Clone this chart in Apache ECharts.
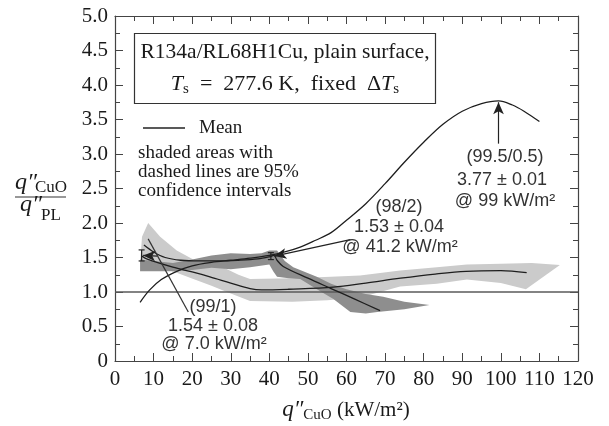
<!DOCTYPE html>
<html>
<head>
<meta charset="utf-8">
<script src="https://cdn.jsdelivr.net/npm/echarts@6/dist/echarts.min.js"></script>
<style>
  html, body { margin: 0; padding: 0; background: #fff; }
  #main { width: 609px; height: 426px; }
</style>
</head>
<body>
<div id="main"></div>
<script>
// mean curves [q'' CuO (kW/m2), ratio]
var mean995 = [[6.5,0.85],[9,1.03],[12,1.18],[16,1.3],[20,1.38],[25,1.43],[30,1.46],[35,1.49],[40,1.53],[44,1.58],[48,1.65],[52,1.75],[56,1.86],[60,2.04],[65,2.28],[70,2.57],[75,2.88],[80,3.17],[85,3.43],[90,3.62],[95,3.73],[99.4,3.77],[103,3.71],[106,3.62],[110,3.47]];
var mean99 = [[7,1.52],[8.2,1.48],[15,1.36],[20,1.29],[24.6,1.22],[30,1.13],[35,1.05],[38,1.03],[45,1.04],[56.6,1.07],[65,1.13],[74,1.2],[83,1.26],[91,1.3],[100,1.31],[106.7,1.28]];
var mean98 = [[7.5,1.68],[10,1.58],[13,1.5],[17,1.46],[22,1.45],[27,1.45],[32,1.46],[37,1.48],[40,1.51],[41.2,1.53],[42,1.46],[43.6,1.37],[50,1.2],[56,1.05],[62,0.9],[68.7,0.73]];

// 95% confidence bands
var band99Upper = [[6.5,1.41],[7,1.8],[8.6,2.0],[11.7,1.8],[16,1.6],[20.3,1.47],[24.6,1.41],[28,1.36],[32,1.25],[35,1.19],[46,1.2],[56,1.22],[63.5,1.24],[73.9,1.31],[83.4,1.36],[91.2,1.4],[100,1.41],[108,1.42],[115.3,1.39]];
var band99Lower = [[6.5,1.41],[11.7,1.36],[16,1.28],[20.3,1.19],[25,1.09],[29,1.0],[35,0.87],[46,0.86],[55,0.88],[63.5,0.92],[73.9,1.08],[83.4,1.12],[91.2,1.18],[100,1.13],[106.5,1.04],[115.3,1.39]];
var band98Upper = [[6.5,1.3],[6.5,1.47],[10,1.45],[15,1.42],[20,1.47],[25,1.53],[30,1.56],[35,1.55],[38,1.56],[40,1.6],[42,1.6],[44,1.45],[46.2,1.36],[52.3,1.22],[56,1.12],[60,1.04],[65,0.97],[69.5,0.93],[75,0.86],[81.5,0.81]];
var band98Lower = [[6.5,1.3],[10,1.3],[15,1.3],[20,1.32],[25,1.35],[30,1.33],[35,1.36],[40,1.4],[41,1.3],[42,1.22],[45,1.2],[48,1.19],[52,1.05],[56.6,0.9],[61,0.71],[65,0.69],[68,0.71],[75,0.75],[81.5,0.81]];

// error bars [q, low, high] and annotation arrows [from, to]
var errBars = [[6.9,1.45,1.61],[40.4,1.47,1.57]];
var arrows = [[[99.4,3.15],[99.4,3.75]],[[61,1.76],[41.3,1.52]],[[11,1.52],[7.3,1.53]]];
var leader99 = [[19,0.71],[8.6,1.77]];
var refLine = [[0,1],[120,1]];

var xTicks = ['0','10','20','30','40','50','60','70','80','90','100','110','120'];
var yTicks = ['0','0.5','1.0','1.5','2.0','2.5','3.0','3.5','4.0','4.5','5.0'];

var myChart = echarts.init(document.getElementById('main'));
var serif = 'Liberation Serif';
var ink = '#1a1a1a';

function bandSeries(upper, lower, color) {
  return {
    type: 'custom',
    silent: true,
    data: [[0, 0]],
    z: 1,
    renderItem: function (params, api) {
      var pts = upper.concat(lower.slice().reverse()).map(function (p) { return api.coord(p); });
      return { type: 'polygon', shape: { points: pts }, style: { fill: color } };
    }
  };
}

function axisX(pos, labels) {
  return {
    type: 'value', min: 0, max: 120, interval: 10, position: pos,
    axisLine: { show: true, onZero: false, lineStyle: { color: '#444', width: 1.2 } },
    axisTick: { show: true, inside: true, length: 8, lineStyle: { color: '#444' } },
    minorTick: { show: true, splitNumber: 2, length: 5, lineStyle: { color: '#444' } },
    splitLine: { show: false },
    axisLabel: labels ? {
      show: true, margin: 8, color: ink, fontFamily: serif, fontSize: 21,
      formatter: function (v) { return xTicks[Math.round(v / 10)]; }
    } : { show: false }
  };
}
function axisY(pos, labels) {
  return {
    type: 'value', min: 0, max: 5, interval: 0.5, position: pos,
    axisLine: { show: true, onZero: false, lineStyle: { color: '#444', width: 1.2 } },
    axisTick: { show: true, inside: true, length: 8, lineStyle: { color: '#444' } },
    minorTick: { show: true, splitNumber: 2, length: 5, lineStyle: { color: '#444' } },
    splitLine: { show: false },
    axisLabel: labels ? {
      show: true, margin: 7, color: ink, fontFamily: serif, fontSize: 21,
      formatter: function (v) { return yTicks[Math.round(v * 2)]; }
    } : { show: false }
  };
}

function meanLine(data) {
  return {
    type: 'line', data: data, smooth: 0.35, showSymbol: false, silent: true, z: 5,
    lineStyle: { color: '#1e1e1e', width: 1.3 }
  };
}

var option = {
  animation: false,
  backgroundColor: '#fff',
  grid: { left: 115, right: 31, top: 16, bottom: 65 },
  xAxis: [axisX('bottom', true), axisX('top', false)],
  yAxis: [axisY('left', true), axisY('right', false)],
  series: [
    bandSeries(band99Upper, band99Lower, '#cbcbcb'),
    bandSeries(band98Upper, band98Lower, '#8e8e8e'),
    {
      type: 'line', data: refLine, showSymbol: false, silent: true, z: 3,
      lineStyle: { color: '#5a5a5a', width: 1.6 }
    },
    meanLine(mean99),
    meanLine(mean98),
    meanLine(mean995),
    {
      type: 'line', data: leader99, showSymbol: false, silent: true, z: 6,
      lineStyle: { color: '#333', width: 1.2 }
    },
    {
      type: 'line', data: [], silent: true, z: 6,
      markLine: {
        silent: true, symbol: ['none', 'arrow'], symbolSize: [8, 12],
        label: { show: false },
        lineStyle: { color: '#222', width: 1.2, type: 'solid' },
        data: arrows.map(function (a) { return [{ coord: a[0] }, { coord: a[1] }]; })
      }
    },
    {
      type: 'custom', silent: true, z: 6, data: errBars,
      renderItem: function (params, api) {
        var lo = api.coord([api.value(0), api.value(1)]);
        var hi = api.coord([api.value(0), api.value(2)]);
        var st = { stroke: '#222', lineWidth: 1.2 };
        return {
          type: 'group', children: [
            { type: 'line', shape: { x1: lo[0], y1: lo[1], x2: hi[0], y2: hi[1] }, style: st },
            { type: 'line', shape: { x1: lo[0] - 3, y1: lo[1], x2: lo[0] + 3, y2: lo[1] }, style: st },
            { type: 'line', shape: { x1: hi[0] - 3, y1: hi[1], x2: hi[0] + 3, y2: hi[1] }, style: st }
          ]
        };
      }
    }
  ],
  graphic: [
    { type: 'rect', shape: { x: 134.5, y: 33.5, width: 301, height: 70 }, style: { fill: '#fff', stroke: '#333', lineWidth: 1.2 }, z: 10 },
    { type: 'text', x: 285, y: 52, z: 11, style: { text: 'R134a/RL68H1Cu, plain surface,', font: '21.5px "Liberation Serif"', fill: ink, align: 'center', verticalAlign: 'middle' } },
    { type: 'text', x: 285, y: 84, z: 11, style: {
      text: '{i|T}{s|s}{n|  =  277.6 K,  fixed  Δ}{i|T}{s|s}', align: 'center', verticalAlign: 'middle',
      rich: {
        i: { fontFamily: serif, fontStyle: 'italic', fontSize: 22, lineHeight: 26, fill: ink },
        n: { fontFamily: serif, fontSize: 22, lineHeight: 26, fill: ink },
        s: { fontFamily: serif, fontSize: 15, lineHeight: 8, verticalAlign: 'bottom', fill: ink }
      } } },
    { type: 'line', z: 11, shape: { x1: 143, y1: 128, x2: 185, y2: 128 }, style: { stroke: '#222', lineWidth: 1.3 } },
    { type: 'text', x: 199, y: 128, z: 11, style: { text: 'Mean', font: '19px "Liberation Serif"', fill: ink, verticalAlign: 'middle' } },
    { type: 'text', x: 138, y: 153, z: 11, style: { text: 'shaded areas with', font: '19px "Liberation Serif"', fill: ink, verticalAlign: 'middle' } },
    { type: 'text', x: 138, y: 172, z: 11, style: { text: 'dashed lines are 95%', font: '19px "Liberation Serif"', fill: ink, verticalAlign: 'middle' } },
    { type: 'text', x: 138, y: 191, z: 11, style: { text: 'confidence intervals', font: '19px "Liberation Serif"', fill: ink, verticalAlign: 'middle' } },

    { type: 'text', x: 505, y: 157, z: 11, style: { text: '(99.5/0.5)', font: '18px "Liberation Sans"', fill: '#333', align: 'center', verticalAlign: 'middle' } },
    { type: 'text', x: 502, y: 180, z: 11, style: { text: '3.77 ± 0.01', font: '18px "Liberation Sans"', fill: '#333', align: 'center', verticalAlign: 'middle' } },
    { type: 'text', x: 505, y: 201, z: 11, style: { text: '@ 99 kW/m²', font: '18px "Liberation Sans"', fill: '#333', align: 'center', verticalAlign: 'middle' } },

    { type: 'text', x: 399, y: 207, z: 11, style: { text: '(98/2)', font: '18px "Liberation Sans"', fill: '#333', align: 'center', verticalAlign: 'middle' } },
    { type: 'text', x: 399, y: 227, z: 11, style: { text: '1.53 ± 0.04', font: '18px "Liberation Sans"', fill: '#333', align: 'center', verticalAlign: 'middle' } },
    { type: 'text', x: 400, y: 247, z: 11, style: { text: '@ 41.2 kW/m²', font: '18px "Liberation Sans"', fill: '#333', align: 'center', verticalAlign: 'middle' } },

    { type: 'text', x: 213, y: 307, z: 11, style: { text: '(99/1)', font: '18px "Liberation Sans"', fill: '#333', align: 'center', verticalAlign: 'middle' } },
    { type: 'text', x: 213, y: 326, z: 11, style: { text: '1.54 ± 0.08', font: '18px "Liberation Sans"', fill: '#333', align: 'center', verticalAlign: 'middle' } },
    { type: 'text', x: 214, y: 344, z: 11, style: { text: '@ 7.0 kW/m²', font: '18px "Liberation Sans"', fill: '#333', align: 'center', verticalAlign: 'middle' } },

    // y axis title as a fraction
    { type: 'text', x: 15, y: 183, style: { text: 'q″', font: 'italic 24px "Liberation Serif"', fill: ink, verticalAlign: 'middle' } },
    { type: 'text', x: 35, y: 188, style: { text: 'CuO', font: '17px "Liberation Serif"', fill: ink, verticalAlign: 'middle' } },
    { type: 'line', shape: { x1: 15, y1: 197, x2: 66, y2: 197 }, style: { stroke: '#333', lineWidth: 1.2 } },
    { type: 'text', x: 20, y: 205, style: { text: 'q″', font: 'italic 24px "Liberation Serif"', fill: ink, verticalAlign: 'middle' } },
    { type: 'text', x: 41, y: 216, style: { text: 'PL', font: '17px "Liberation Serif"', fill: ink, verticalAlign: 'middle' } },

    // x axis title
    { type: 'text', x: 346, y: 410, style: {
      text: '{i|q″}{s|CuO}{n| (kW/m²)}', align: 'center', verticalAlign: 'middle',
      rich: {
        i: { fontFamily: serif, fontStyle: 'italic', fontSize: 23, lineHeight: 26, fill: ink },
        n: { fontFamily: serif, fontSize: 21, lineHeight: 26, fill: ink },
        s: { fontFamily: serif, fontSize: 15, lineHeight: 10, verticalAlign: 'bottom', fill: ink }
      } } }
  ]
};
myChart.setOption(option);
</script>
</body>
</html>
